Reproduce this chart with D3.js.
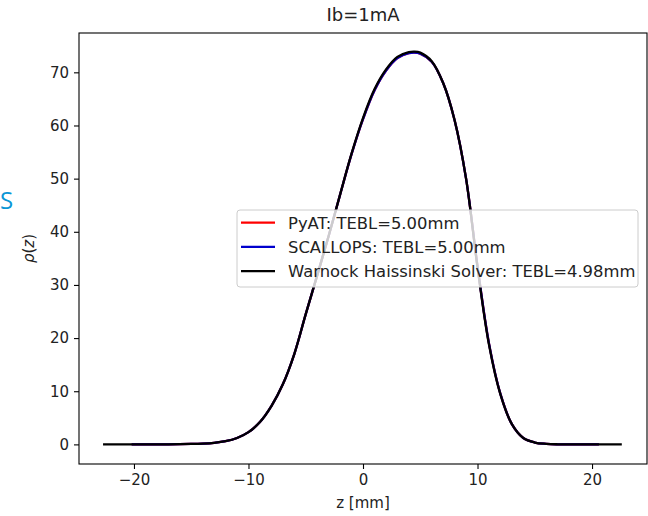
<!DOCTYPE html>
<html>
<head>
<meta charset="utf-8">
<script src="https://d3js.org/d3.v7.min.js"></script>
<style>
  body { margin: 0; background: #fff; }
  svg { display: block; font-family: "DejaVu Sans", sans-serif; }
</style>
</head>
<body>
<div id="chart"></div>
<script>
// values
const zSim = [-20.2, -17, -15, -14, -13, -12, -11, -10, -9, -8, -7, -6, -5, -4, -3, -2, -1, 0, 1, 2, 3, 4, 4.5, 5, 6, 7, 8, 9, 10, 11, 12, 13, 14, 15, 16, 17, 20.6];
const rhoPyAT = [0, 0.02, 0.08, 0.15, 0.3, 0.6, 1.2, 2.3, 4.2, 7.2, 11.3, 17, 24.5, 31.8, 39.2, 47, 54.6, 61.2, 66.6, 70.3, 72.7, 73.6, 73.7, 73.5, 72, 68, 61, 50, 33.5, 19, 9.5, 3.8, 1.2, 0.35, 0.1, 0.02, 0];
const rhoScallops = [0, 0.02, 0.08, 0.15, 0.3, 0.6, 1.2, 2.3, 4.2, 7.2, 11.3, 17, 24.5, 31.8, 39.2, 47, 54.6, 61.2, 66.6, 70.3, 72.7, 73.6, 73.7, 73.5, 72, 68, 61, 50, 33.5, 19, 9.5, 3.8, 1.2, 0.35, 0.1, 0.02, 0];
const zWarnock = [-22.7, -17, -15, -14, -13, -12, -11, -10, -9, -8, -7, -6, -5, -4, -3, -2, -1, 0, 1, 2, 3, 4, 4.5, 5, 6, 7, 8, 9, 10, 11, 12, 13, 14, 15, 16, 17, 22.6];
const rhoWarnock = [0, 0.02, 0.08, 0.15, 0.3, 0.6, 1.2, 2.3, 4.2, 7.2, 11.3, 17, 24.5, 31.8, 39.2, 47, 54.7, 61.4, 66.8, 70.5, 72.9, 73.8, 73.9, 73.7, 72.1, 68, 61, 50, 33.3, 18.8, 9.4, 3.8, 1.2, 0.35, 0.1, 0.02, 0];

const seriesNames = ["PyAT: TEBL=5.00mm", "SCALLOPS: TEBL=5.00mm", "Warnock Haissinski Solver: TEBL=4.98mm"];
const seriesColors = ["#ff0000", "#0000cd", "#000000"];
const xTicks = [-20, -10, 0, 10, 20];
const yTicks = [0, 10, 20, 30, 40, 50, 60, 70];

const width = 648, height = 516;
const margin = {left: 79, right: 1, top: 33, bottom: 52};

const svg = d3.select("#chart")
    .append("svg")
    .attr("width", width)
    .attr("height", height);

const x = d3.scaleLinear().domain([-24.8, 24.8]).range([margin.left, width - margin.right]);
const y = d3.scaleLinear().domain([-3.69, 77.4]).range([height - margin.bottom, margin.top]);

const fmt = d => d < 0 ? "\u2212" + Math.abs(d) : String(d);

// axes
const xAxis = svg.append("g")
    .attr("transform", `translate(0,${height - margin.bottom})`)
    .call(d3.axisBottom(x).tickValues(xTicks).tickFormat(fmt).tickSize(5).tickPadding(5));
const yAxis = svg.append("g")
    .attr("transform", `translate(${margin.left},0)`)
    .call(d3.axisLeft(y).tickValues(yTicks).tickFormat(fmt).tickSize(5).tickPadding(5));

[xAxis, yAxis].forEach(a => {
    a.select(".domain").remove();
    a.selectAll("line").attr("stroke", "#000").attr("stroke-width", 1.1);
    a.selectAll("text").attr("font-size", "15px").attr("fill", "#222")
        .attr("font-family", "DejaVu Sans, sans-serif");
});

// lines
const line = d3.line()
    .x(d => x(d[0]))
    .y(d => y(d[1]))
    .curve(d3.curveCatmullRom.alpha(0.5));

const seriesData = [
    d3.zip(zSim, rhoPyAT),
    d3.zip(zSim, rhoScallops),
    d3.zip(zWarnock, rhoWarnock)
];

const plot = svg.append("g");
seriesData.forEach((data, i) => {
    plot.append("path")
        .datum(data)
        .attr("d", line)
        .attr("fill", "none")
        .attr("stroke", seriesColors[i])
        .attr("stroke-width", 2.3)
        .attr("stroke-linejoin", "round");
});

// frame
svg.append("rect")
    .attr("x", margin.left)
    .attr("y", margin.top)
    .attr("width", width - margin.left - margin.right)
    .attr("height", height - margin.top - margin.bottom)
    .attr("fill", "none")
    .attr("stroke", "#000")
    .attr("stroke-width", 1.1);

// legend
const legend = svg.append("g").attr("transform", "translate(237,210)");
legend.append("rect")
    .attr("width", 401)
    .attr("height", 77)
    .attr("rx", 3)
    .attr("fill", "#fff")
    .attr("fill-opacity", 0.8)
    .attr("stroke", "#ccc")
    .attr("stroke-width", 1);

seriesNames.forEach((name, i) => {
    const row = legend.append("g").attr("transform", `translate(0, ${12.7 + i * 24.2})`);
    row.append("line")
        .attr("x1", 4).attr("x2", 38)
        .attr("stroke", seriesColors[i])
        .attr("stroke-width", 2.3);
    row.append("text")
        .attr("x", 51)
        .attr("dy", "0.36em")
        .attr("font-size", "16.4px")
        .attr("fill", "#222")
        .text(name);
});

// labels
svg.append("text")
    .attr("x", (margin.left + width - margin.right) / 2)
    .attr("y", 21)
    .attr("text-anchor", "middle")
    .attr("font-size", "18px")
    .attr("fill", "#222")
    .text("Ib=1mA");

svg.append("text")
    .attr("x", (margin.left + width - margin.right) / 2)
    .attr("y", 508)
    .attr("text-anchor", "middle")
    .attr("font-size", "15px")
    .attr("fill", "#222")
    .text("z [mm]");

const yl = svg.append("text")
    .attr("transform", `translate(34, ${(margin.top + height - margin.bottom) / 2}) rotate(-90)`)
    .attr("text-anchor", "middle")
    .attr("font-size", "15px")
    .attr("fill", "#222");
yl.append("tspan").attr("font-style", "italic").text("\u03c1");
yl.append("tspan").text("(");
yl.append("tspan").attr("font-style", "italic").text("z");
yl.append("tspan").text(")");

// stray letter at the left edge of the screenshot
svg.append("text")
    .attr("x", 0)
    .attr("y", 209)
    .attr("font-size", "24px")
    .attr("fill", "#0a96d6")
    .attr("font-family", "Open Sans, sans-serif")
    .text("S");
</script>
</body>
</html>
